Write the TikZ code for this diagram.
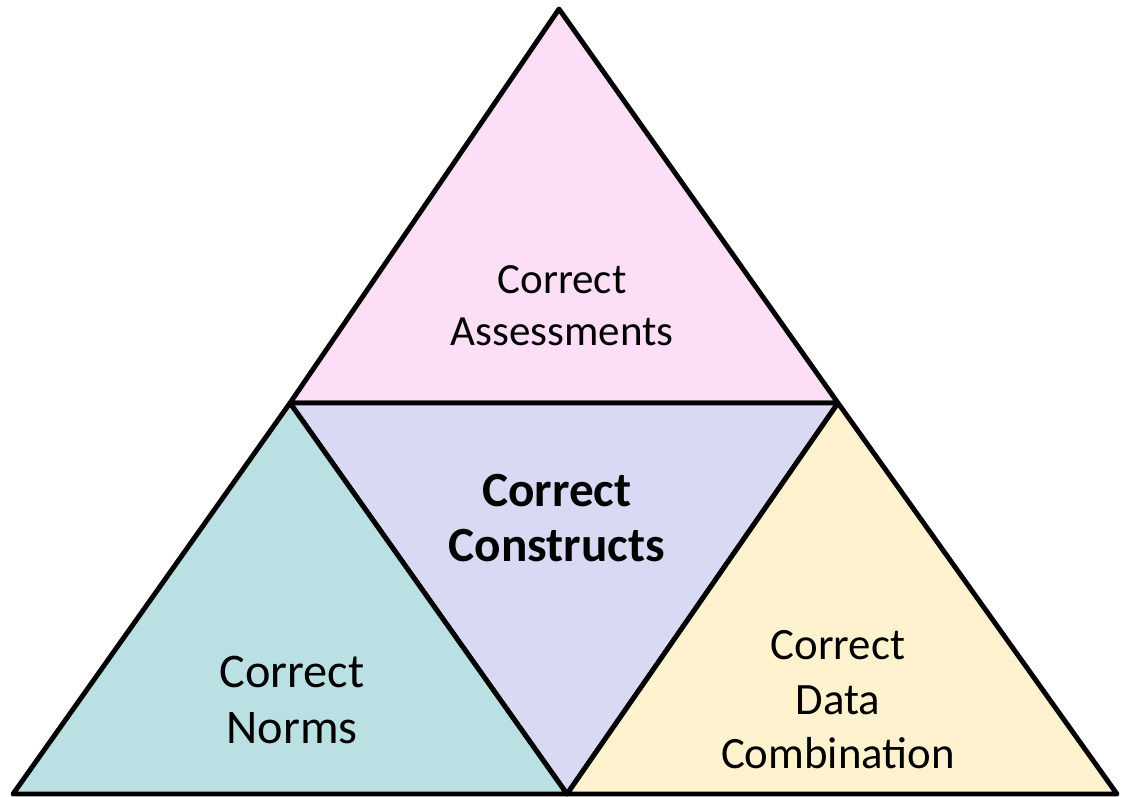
\documentclass[tikz,border=0pt]{standalone}
\usepackage{fontspec}
\setmainfont{Carlito}
\usepackage{tikz}
\usetikzlibrary{positioning}

\definecolor{pinkfill}{RGB}{252,223,246}
\definecolor{lavfill}{RGB}{217,217,243}
\definecolor{tealfill}{RGB}{186,224,227}
\definecolor{yellowfill}{RGB}{255,243,207}

\begin{document}
\begin{tikzpicture}[x=0.02cm, y=-0.02cm,
  tri/.style={draw=black, line width=2.8pt, line join=round},
  label/.style={align=center}
]
\useasboundingbox (0,0) rectangle (1124,796);

\coordinate (apex) at (559,9);
\coordinate (ml) at (290,403);
\coordinate (mr) at (838,403);
\coordinate (bl) at (13,794);
\coordinate (bm) at (567,794);
\coordinate (br) at (1117,794);

\draw[tri, fill=pinkfill] (apex) -- (ml) -- (mr) -- cycle;
\draw[tri, fill=lavfill] (ml) -- (mr) -- (bm) -- cycle;
\draw[tri, fill=tealfill] (ml) -- (bm) -- (bl) -- cycle;
\draw[tri, fill=yellowfill] (mr) -- (br) -- (bm) -- cycle;

\node[label, font=\fontsize{24.5}{29.5}\selectfont] (assess) at (562,306) {Correct\\Assessments};
\node[label, font=\fontsize{28}{31.8}\selectfont\bfseries] (constr) at (557,518) {Correct\\Constructs};
\node[label, font=\fontsize{27.5}{31.8}\selectfont] (norms) at (292,700) {Correct\\Norms};
\node[label, font=\fontsize{25.5}{31}\selectfont] (datacomb) at (838,700) {Correct\\Data\\Combination};
\end{tikzpicture}
\end{document}
